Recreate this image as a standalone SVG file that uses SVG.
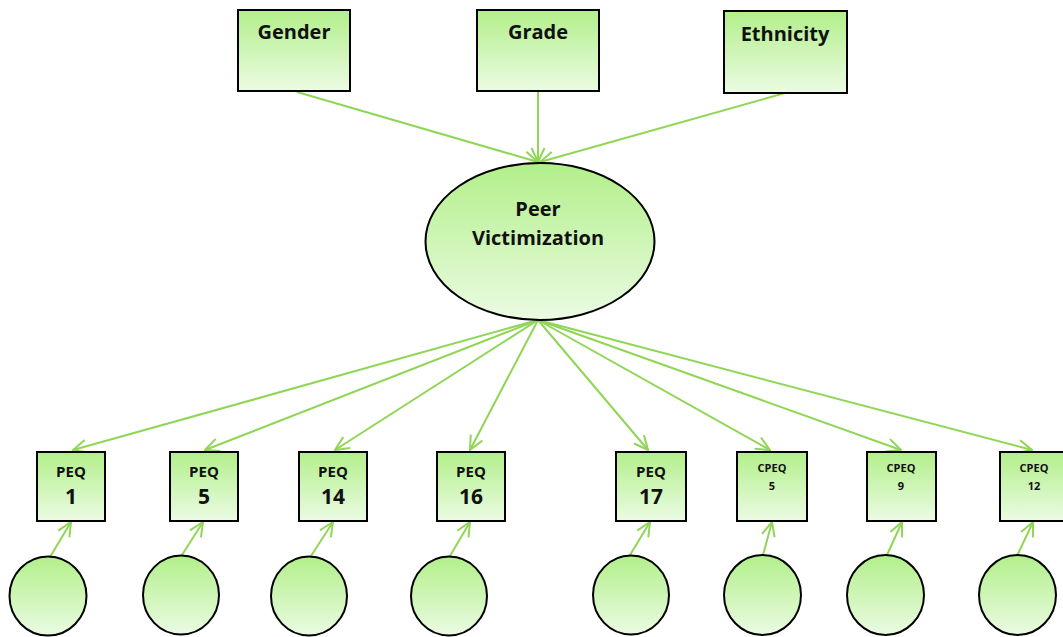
<svg xmlns="http://www.w3.org/2000/svg" width="1063" height="637" viewBox="0 0 1063 637">
  <defs>
    <linearGradient id="fill" x1="0" y1="0" x2="0" y2="1">
      <stop offset="0" stop-color="#B2EF8A"/>
      <stop offset="1" stop-color="#EBFBE3"/>
    </linearGradient>
    <marker id="arr" viewBox="0 0 16 16" refX="15" refY="8" markerWidth="16" markerHeight="16" markerUnits="userSpaceOnUse" orient="auto">
      <path d="M1,1.5 L15,8 L1,14.5" fill="none" stroke="#8FD656" stroke-width="2"/>
    </marker>
    <style>
      .box { fill: url(#fill); stroke: #000; stroke-width: 2; }
      .lnk { stroke: #8FD656; stroke-width: 2; fill: none; marker-end: url(#arr); }
      .t { font-family: "Open Sans", "Liberation Sans", sans-serif; font-weight: bold; fill: #111; text-anchor: middle; }
      .big { font-size: 20px; }
      .mid { font-size: 15px; }
      .num { font-size: 21px; }
      .sm { font-size: 11px; }
    </style>
  </defs>

  <g id="connectors">
    <line class="lnk" x1="297" y1="92" x2="538" y2="162"/>
    <line class="lnk" x1="538" y1="92" x2="538" y2="162"/>
    <line class="lnk" x1="785" y1="93" x2="540" y2="162"/>
    <line class="lnk" x1="538" y1="320" x2="73" y2="450"/>
    <line class="lnk" x1="538" y1="320" x2="205" y2="450"/>
    <line class="lnk" x1="538" y1="320" x2="335" y2="450"/>
    <line class="lnk" x1="538" y1="320" x2="470" y2="450"/>
    <line class="lnk" x1="538" y1="320" x2="648" y2="450"/>
    <line class="lnk" x1="538" y1="320" x2="770" y2="450"/>
    <line class="lnk" x1="538" y1="320" x2="901" y2="450"/>
    <line class="lnk" x1="538" y1="320" x2="1032" y2="450"/>
    <line class="lnk" x1="50" y1="557" x2="71" y2="522"/>
    <line class="lnk" x1="182" y1="555" x2="203" y2="522"/>
    <line class="lnk" x1="311" y1="556" x2="333" y2="522"/>
    <line class="lnk" x1="450" y1="556" x2="470" y2="522"/>
    <line class="lnk" x1="630" y1="555" x2="650" y2="522"/>
    <line class="lnk" x1="763" y1="555" x2="772" y2="522"/>
    <line class="lnk" x1="887" y1="555" x2="902" y2="522"/>
    <line class="lnk" x1="1017" y1="556" x2="1033" y2="522"/>
  </g>

  <g id="gender">
    <rect class="box" x="238" y="10" width="112" height="81"/>
    <text class="t big" x="294" y="39">Gender</text>
  </g>
  <g id="grade">
    <rect class="box" x="477" y="10" width="122" height="81"/>
    <text class="t big" x="538" y="39">Grade</text>
  </g>
  <g id="ethnicity">
    <rect class="box" x="724" y="11" width="123" height="82"/>
    <text class="t big" x="785" y="41">Ethnicity</text>
  </g>

  <g id="peer-victimization">
    <ellipse class="box" cx="540" cy="241.5" rx="114.5" ry="78.5"/>
    <text class="t big" x="538" y="216">Peer</text>
    <text class="t big" x="538" y="245">Victimization</text>
  </g>

  <g id="peq1">
    <rect class="box" x="37" y="452" width="68" height="69"/>
    <text class="t mid" x="71" y="477">PEQ</text>
    <text class="t num" x="71" y="504">1</text>
  </g>
  <g id="peq5">
    <rect class="box" x="170" y="452" width="68" height="69"/>
    <text class="t mid" x="204" y="477">PEQ</text>
    <text class="t num" x="204" y="504">5</text>
  </g>
  <g id="peq14">
    <rect class="box" x="299" y="452" width="68" height="69"/>
    <text class="t mid" x="333" y="477">PEQ</text>
    <text class="t num" x="333" y="504">14</text>
  </g>
  <g id="peq16">
    <rect class="box" x="437" y="452" width="68" height="69"/>
    <text class="t mid" x="471" y="477">PEQ</text>
    <text class="t num" x="471" y="504">16</text>
  </g>
  <g id="peq17">
    <rect class="box" x="616" y="452" width="70" height="69"/>
    <text class="t mid" x="651" y="477">PEQ</text>
    <text class="t num" x="651" y="504">17</text>
  </g>
  <g id="cpeq5">
    <rect class="box" x="737" y="452" width="70" height="69"/>
    <text class="t sm" x="772" y="472">CPEQ</text>
    <text class="t sm" x="772" y="490">5</text>
  </g>
  <g id="cpeq9">
    <rect class="box" x="867" y="452" width="69" height="69"/>
    <text class="t sm" x="901" y="472">CPEQ</text>
    <text class="t sm" x="901" y="490">9</text>
  </g>
  <g id="cpeq12">
    <rect class="box" x="1000" y="452" width="70" height="69"/>
    <text class="t sm" x="1034" y="472">CPEQ</text>
    <text class="t sm" x="1034" y="490">12</text>
  </g>

  <g id="e1"><ellipse class="box" cx="48" cy="596" rx="38.5" ry="39.5"/></g>
  <g id="e5"><ellipse class="box" cx="181" cy="595" rx="38" ry="39.5"/></g>
  <g id="e14"><ellipse class="box" cx="309" cy="596" rx="38" ry="39.5"/></g>
  <g id="e16"><ellipse class="box" cx="449" cy="596" rx="38" ry="39.5"/></g>
  <g id="e17"><ellipse class="box" cx="631" cy="595" rx="38" ry="39.5"/></g>
  <g id="ec5"><ellipse class="box" cx="762.5" cy="595" rx="38.5" ry="40"/></g>
  <g id="ec9"><ellipse class="box" cx="885.5" cy="595" rx="38.5" ry="40"/></g>
  <g id="ec12"><ellipse class="box" cx="1017.5" cy="595" rx="38.5" ry="40"/></g>
</svg>
